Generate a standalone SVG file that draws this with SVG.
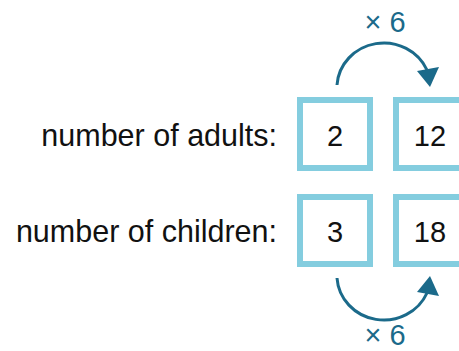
<svg xmlns="http://www.w3.org/2000/svg" width="459" height="351" viewBox="0 0 459 351">
<style>
.box{fill:#fff;stroke:#84cddf;stroke-width:6}
.lbl{font-family:"Liberation Sans",Arial,sans-serif;font-size:30.5px;fill:#111;text-anchor:end}
.num{font-family:"Liberation Sans",Arial,sans-serif;font-size:29px;fill:#111;text-anchor:middle}
.op{font-family:"Liberation Sans",Arial,sans-serif;font-size:29px;fill:#1b6a8a;text-anchor:middle}
.arc{fill:none;stroke:#1b6a8a;stroke-width:3}
.head{fill:#1b6a8a}
</style>
<rect width="459" height="351" fill="#fff"/>
<g id="label-adults"><text class="lbl" x="277" y="146">number of adults:</text></g>
<g id="label-children"><text class="lbl" x="277" y="242">number of children:</text></g>
<g id="box-2"><rect class="box" x="300" y="100" width="70" height="68"/><text class="num" x="335" y="146">2</text></g>
<g id="box-12"><rect class="box" x="396" y="100" width="70" height="68"/><text class="num" x="430" y="146">12</text></g>
<g id="box-3"><rect class="box" x="300" y="197" width="70" height="67"/><text class="num" x="335" y="242">3</text></g>
<g id="box-18"><rect class="box" x="396" y="197" width="70" height="67"/><text class="num" x="430" y="242">18</text></g>
<g id="connectors">
<path class="arc" d="M337,85 A47,45 0 0 1 427,70"/>
<polygon class="head" points="417,71 439,67 430,87"/>
<path class="arc" d="M337,278 A47,45 0 0 0 427,293"/>
<polygon class="head" points="417,292 439,296 430,276"/>
<text class="op" x="385" y="32">× 6</text>
<text class="op" x="385" y="345">× 6</text>
</g>
</svg>
